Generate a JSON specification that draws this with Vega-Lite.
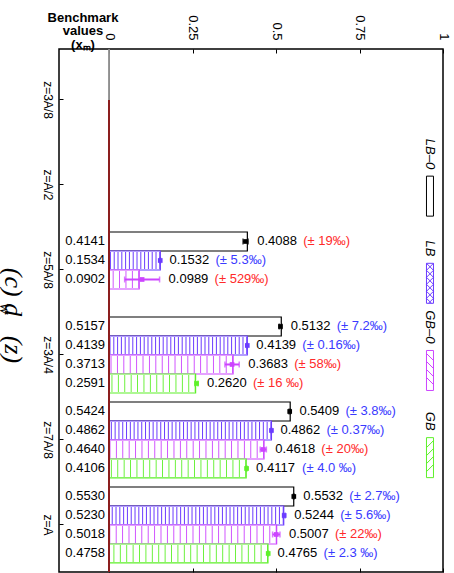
{
  "$schema": "https://vega.github.io/schema/vega-lite/v6.json",
  "width": 384,
  "height": 523,
  "autosize": "none",
  "padding": {"left": 59, "top": 49, "right": 11, "bottom": 1},
  "background": "white",
  "config": {
    "view": {"stroke": "black", "strokeWidth": 1.5},
    "font": "Liberation Sans",
    "text": {"font": "Liberation Sans"}
  },
  "title": {
    "text": "(c) d\u00a0\u00a0\u00a0(z)",
    "orient": "left",
    "angle": 90,
    "baseline": "bottom",
    "anchor": "middle",
    "font": "Liberation Serif",
    "fontSize": 26,
    "fontStyle": "italic",
    "fontWeight": "normal",
    "color": "black",
    "offset": -29,
    "dx": 5
  },
  "datasets": {
    "bars": [
      {"z": "z=5A/8", "series": "LB–0", "bench": 0.4141, "meas": 0.4088, "lo": 0.4010, "hi": 0.4166, "pct": 19, "err": "(± 19‰)"},
      {"z": "z=5A/8", "series": "LB", "bench": 0.1534, "meas": 0.1532, "lo": 0.1524, "hi": 0.1540, "pct": 5.3, "err": "(± 5.3‰)"},
      {"z": "z=5A/8", "series": "GB–0", "bench": 0.0902, "meas": 0.0989, "lo": 0.0466, "hi": 0.1512, "pct": 529, "err": "(± 529‰)"},
      {"z": "z=3A/4", "series": "LB–0", "bench": 0.5157, "meas": 0.5132, "lo": 0.5095, "hi": 0.5169, "pct": 7.2, "err": "(± 7.2‰)"},
      {"z": "z=3A/4", "series": "LB", "bench": 0.4139, "meas": 0.4139, "lo": 0.4138, "hi": 0.4140, "pct": 0.16, "err": "(± 0.16‰)"},
      {"z": "z=3A/4", "series": "GB–0", "bench": 0.3713, "meas": 0.3683, "lo": 0.3469, "hi": 0.3897, "pct": 58, "err": "(± 58‰)"},
      {"z": "z=3A/4", "series": "GB", "bench": 0.2591, "meas": 0.2620, "lo": 0.2578, "hi": 0.2662, "pct": 16, "err": "(± 16 ‰)"},
      {"z": "z=7A/8", "series": "LB–0", "bench": 0.5424, "meas": 0.5409, "lo": 0.5388, "hi": 0.5430, "pct": 3.8, "err": "(± 3.8‰)"},
      {"z": "z=7A/8", "series": "LB", "bench": 0.4862, "meas": 0.4862, "lo": 0.4860, "hi": 0.4864, "pct": 0.37, "err": "(± 0.37‰)"},
      {"z": "z=7A/8", "series": "GB–0", "bench": 0.4640, "meas": 0.4618, "lo": 0.4526, "hi": 0.4710, "pct": 20, "err": "(± 20‰)"},
      {"z": "z=7A/8", "series": "GB", "bench": 0.4106, "meas": 0.4117, "lo": 0.4101, "hi": 0.4133, "pct": 4.0, "err": "(± 4.0 ‰)"},
      {"z": "z=A", "series": "LB–0", "bench": 0.5530, "meas": 0.5532, "lo": 0.5517, "hi": 0.5547, "pct": 2.7, "err": "(± 2.7‰)"},
      {"z": "z=A", "series": "LB", "bench": 0.5230, "meas": 0.5244, "lo": 0.5215, "hi": 0.5273, "pct": 5.6, "err": "(± 5.6‰)"},
      {"z": "z=A", "series": "GB–0", "bench": 0.5018, "meas": 0.5007, "lo": 0.4897, "hi": 0.5117, "pct": 22, "err": "(± 22‰)"},
      {"z": "z=A", "series": "GB", "bench": 0.4758, "meas": 0.4765, "lo": 0.4754, "hi": 0.4776, "pct": 2.3, "err": "(± 2.3 ‰)"}
    ],
    "legend": [
      {"series": "LB–0"},
      {"series": "LB"},
      {"series": "GB–0"},
      {"series": "GB"}
    ],
    "titlesub": [
      {"sub": "w"}
    ]
  },
  "layer": [
    {
      "data": {"name": "bars"},
      "resolve": {"axis": {"x": "independent", "y": "independent"}},
      "layer": [
        {
          "mark": {"type": "bar", "fill": "white", "strokeWidth": 1.2},
          "encoding": {
            "x": {
              "field": "bench", "type": "quantitative",
              "scale": {"domain": [-0.15, 1], "nice": false, "zero": false},
              "axis": {
                "orient": "top", "values": [0, 0.25, 0.5, 0.75, 1], "format": ".2~f",
                "labelAngle": 90, "labelAlign": "right", "labelBaseline": "middle",
                "tickSize": -4, "labelPadding": 13, "domain": false, "grid": false,
                "title": null, "labelFontSize": 13, "labelColor": "black",
                "tickColor": "black", "labelFont": "Liberation Sans"
              }
            },
            "x2": {"datum": 0},
            "y": {
              "field": "z", "type": "nominal",
              "scale": {
                "domain": ["z=3A/8", "z=A/2", "z=5A/8", "z=3A/4", "z=7A/8", "z=A"],
                "paddingInner": 0.106, "paddingOuter": 0.1295, "align": 0.59
              },
              "axis": {
                "orient": "left", "labelAngle": 90, "labelAlign": "center",
                "labelBaseline": "top", "tickSize": -4, "labelPadding": 11,
                "domain": false, "grid": false, "labelFontSize": 12,
                "labelColor": "black", "tickColor": "black", "labelFont": "Liberation Sans",
                "title": ["Benchmark", "values", "(xₘ)"],
                "titleAngle": 0, "titleX": 23.5, "titleY": -38,
                "titleAlign": "center", "titleBaseline": "top",
                "titleFontWeight": "bold", "titleFontSize": 13,
                "titleLineHeight": 13.5, "titleColor": "black", "titleFont": "Liberation Sans"
              }
            },
            "yOffset": {
              "field": "series", "type": "nominal",
              "scale": {"domain": ["LB–0", "LB", "GB–0", "GB"], "paddingInner": 0, "paddingOuter": 0}
            },
            "stroke": {
              "field": "series", "type": "nominal",
              "scale": {"domain": ["LB–0", "LB", "GB–0", "GB"], "range": ["#000000", "#6b3cff", "#cc44ff", "#5ef02a"]},
              "legend": null
            }
          }
        },
        {
          "transform": [{"filter": "datum.series !== 'LB–0'"}],
          "mark": {"type": "rule", "strokeWidth": 17},
          "encoding": {
            "x": {"field": "bench", "type": "quantitative", "scale": {"domain": [-0.15, 1]}, "axis": null},
            "x2": {"datum": 0},
            "y": {"field": "z", "type": "nominal", "axis": null},
            "yOffset": {"field": "series", "type": "nominal"},
            "stroke": {"field": "series", "type": "nominal", "legend": null},
            "strokeDash": {
              "field": "series", "type": "nominal",
              "scale": {"domain": ["LB", "GB–0", "GB"], "range": [[1, 2.8], [0.9, 5.5], [0.9, 5.5]]},
              "legend": null
            }
          }
        },
        {
          "mark": {"type": "rule", "strokeWidth": 2},
          "encoding": {
            "x": {"field": "lo", "type": "quantitative", "scale": {"domain": [-0.15, 1]}, "axis": null},
            "x2": {"field": "hi"},
            "y": {"field": "z", "type": "nominal", "axis": null},
            "yOffset": {"field": "series", "type": "nominal"},
            "stroke": {"field": "series", "type": "nominal", "legend": null}
          }
        },
        {
          "mark": {"type": "tick", "thickness": 1.5, "size": 6},
          "encoding": {
            "x": {"field": "lo", "type": "quantitative", "scale": {"domain": [-0.15, 1]}, "axis": null},
            "y": {"field": "z", "type": "nominal", "axis": null},
            "yOffset": {"field": "series", "type": "nominal"},
            "color": {
              "field": "series", "type": "nominal",
              "scale": {"domain": ["LB–0", "LB", "GB–0", "GB"], "range": ["#000000", "#6b3cff", "#cc44ff", "#5ef02a"]},
              "legend": null
            }
          }
        },
        {
          "mark": {"type": "tick", "thickness": 1.5, "size": 6},
          "encoding": {
            "x": {"field": "hi", "type": "quantitative", "scale": {"domain": [-0.15, 1]}, "axis": null},
            "y": {"field": "z", "type": "nominal", "axis": null},
            "yOffset": {"field": "series", "type": "nominal"},
            "color": {"field": "series", "type": "nominal", "legend": null}
          }
        },
        {
          "mark": {"type": "point", "shape": "square", "size": 22, "filled": true, "opacity": 1},
          "encoding": {
            "x": {"field": "meas", "type": "quantitative", "scale": {"domain": [-0.15, 1]}, "axis": null},
            "y": {"field": "z", "type": "nominal", "axis": null},
            "yOffset": {"field": "series", "type": "nominal"},
            "color": {"field": "series", "type": "nominal", "legend": null}
          }
        },
        {
          "mark": {"type": "text", "align": "left", "baseline": "middle", "dx": 9, "fontSize": 13, "color": "black"},
          "encoding": {
            "x": {"field": "hi", "type": "quantitative", "scale": {"domain": [-0.15, 1]}, "axis": null},
            "y": {"field": "z", "type": "nominal", "axis": null},
            "yOffset": {"field": "series", "type": "nominal"},
            "text": {"field": "meas", "type": "quantitative", "format": ".4f"}
          }
        },
        {
          "mark": {"type": "text", "align": "left", "baseline": "middle", "dx": 55, "fontSize": 13},
          "encoding": {
            "x": {"field": "hi", "type": "quantitative", "scale": {"domain": [-0.15, 1]}, "axis": null},
            "y": {"field": "z", "type": "nominal", "axis": null},
            "yOffset": {"field": "series", "type": "nominal"},
            "text": {"field": "err", "type": "nominal"},
            "fill": {
              "field": "pct", "type": "quantitative",
              "scale": {"type": "threshold", "domain": [10], "range": ["#3a3aff", "#ff2a2a"]},
              "legend": null
            }
          }
        },
        {
          "mark": {"type": "text", "align": "right", "baseline": "middle", "dx": -4, "fontSize": 13, "color": "black"},
          "encoding": {
            "x": {"datum": 0, "type": "quantitative", "scale": {"domain": [-0.15, 1]}, "axis": null},
            "y": {"field": "z", "type": "nominal", "axis": null},
            "yOffset": {"field": "series", "type": "nominal"},
            "text": {"field": "bench", "type": "quantitative", "format": ".4f"}
          }
        }
      ]
    },
    {
      "data": {"name": "legend"},
      "resolve": {"axis": {"x": "independent"}},
      "layer": [
        {
          "mark": {"type": "rule", "color": "#8c8c8c", "strokeWidth": 1},
          "encoding": {
            "x": {
              "datum": 0, "type": "quantitative",
              "scale": {"domain": [-0.15, 1]},
              "axis": {
                "orient": "bottom", "values": [0, 0.25, 0.5, 0.75, 1], "labels": false,
                "tickSize": -4, "domain": false, "grid": false, "title": null, "tickColor": "black"
              }
            }
          }
        },
        {
          "mark": {"type": "rule", "color": "#8b1e1e", "strokeWidth": 1.5},
          "encoding": {
            "x": {"datum": 0, "type": "quantitative", "scale": {"domain": [-0.15, 1]}, "axis": null},
            "y": {"datum": "z=3A/8", "type": "nominal", "scale": {"domain": ["z=3A/8", "z=A/2", "z=5A/8", "z=3A/4", "z=7A/8", "z=A"], "paddingInner": 0.106, "paddingOuter": 0.1295, "align": 0.59}, "axis": null},
            "y2": {"value": "height"}
          }
        },
        {
          "data": {"name": "titlesub"},
          "mark": {"type": "text", "angle": 90, "align": "center", "baseline": "middle", "dx": 39, "font": "Liberation Serif", "fontSize": 17, "fontStyle": "italic", "color": "black"},
          "encoding": {
            "x": {"datum": -0.312, "type": "quantitative", "scale": {"domain": [-0.15, 1]}, "axis": null},
            "y": {"datum": "z=5A/8", "type": "nominal", "axis": null},
            "text": {"field": "sub", "type": "nominal"}
          }
        }
      ]
    },
    {
      "data": {"name": "legend"},
      "layer": [
        {
          "mark": {"type": "point", "filled": false, "size": 1600, "strokeWidth": 1, "opacity": 1},
          "encoding": {
            "x": {"datum": 0.961, "type": "quantitative", "scale": {"domain": [-0.15, 1]}, "axis": null},
            "y": {
              "field": "series", "type": "nominal",
              "scale": {"type": "band", "domain": ["LB–0", "LB", "GB–0", "GB"], "paddingInner": 0, "paddingOuter": 1.017, "align": 0.594},
              "axis": null
            },
            "shape": {
              "field": "series", "type": "nominal",
              "scale": {
                "domain": ["LB–0", "LB", "GB–0", "GB"],
                "range": [
                  "M-0.175,-1H0.175V1H-0.175Z",
                  "M-0.175,-1H0.175V1H-0.175Z M-0.175,-1L0.175,-0.65 M-0.175,-0.65L0.175,-0.3 M-0.175,-0.3L0.175,0.05 M-0.175,0.05L0.175,0.4 M-0.175,0.4L0.175,0.75 M-0.175,0.75L0.075,1 M-0.175,-0.65L0.175,-1 M-0.175,-0.3L0.175,-0.65 M-0.175,0.05L0.175,-0.3 M-0.175,0.4L0.175,0.05 M-0.175,0.75L0.175,0.4 M-0.075,1L0.175,0.75",
                  "M-0.175,-1H0.175V1H-0.175Z M-0.175,-0.85L0.175,-0.5 M-0.175,-0.45L0.175,-0.1 M-0.175,-0.05L0.175,0.3 M-0.175,0.35L0.175,0.7",
                  "M-0.175,-1H0.175V1H-0.175Z M-0.175,-0.5L0.175,-0.85 M-0.175,-0.1L0.175,-0.45 M-0.175,0.3L0.175,-0.05 M-0.175,0.7L0.175,0.35"
                ]
              },
              "legend": null
            },
            "stroke": {"field": "series", "type": "nominal", "legend": null}
          }
        },
        {
          "mark": {"type": "text", "angle": 90, "align": "right", "baseline": "middle", "dx": -27, "fontSize": 13, "fontStyle": "italic", "color": "black"},
          "encoding": {
            "x": {"datum": 0.961, "type": "quantitative", "scale": {"domain": [-0.15, 1]}, "axis": null},
            "y": {"field": "series", "type": "nominal", "axis": null},
            "text": {"field": "series", "type": "nominal"}
          }
        }
      ]
    }
  ],
  "resolve": {"scale": {"y": "independent"}, "axis": {"x": "independent", "y": "independent"}}
}
